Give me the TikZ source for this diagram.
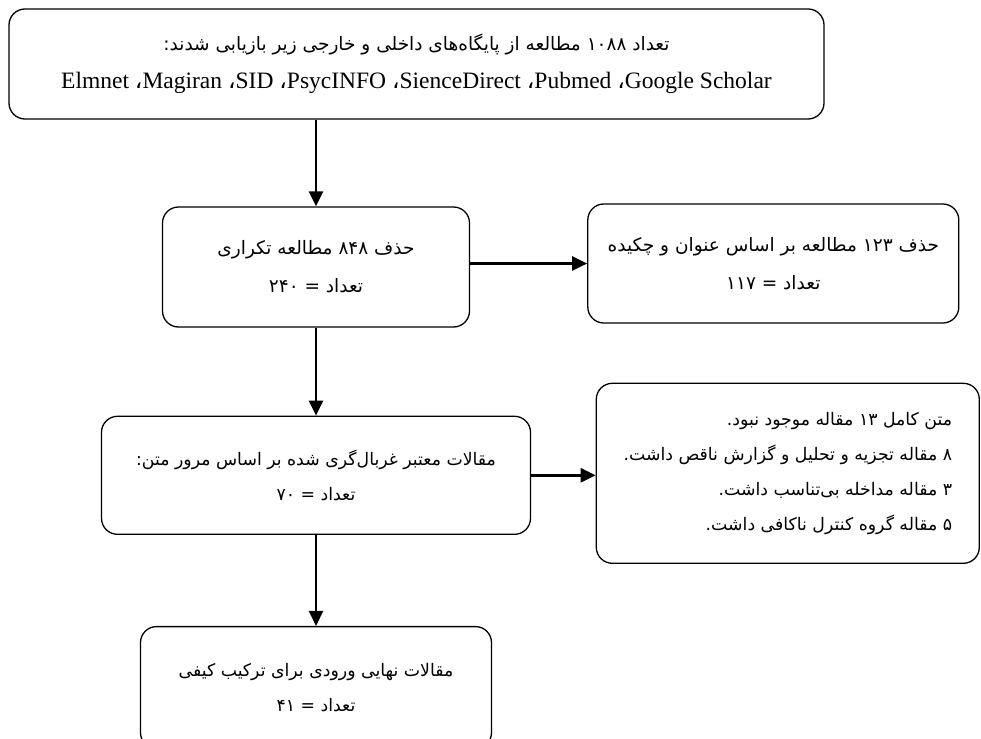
\documentclass[tikz,border=0pt]{standalone}
\usepackage{fontspec}
\setmainfont{Liberation Serif}
\newfontfamily\farsi[Script=Arabic]{DejaVu Sans}
\TeXXeTstate=1
\usepackage{tikz}
\usetikzlibrary{arrows.meta, positioning}

\newcommand{\fa}[1]{{\farsi\beginR #1\endR}}

\begin{document}
\begin{tikzpicture}[
    x=1pt, y=-1pt,
    every node/.style={font=\fontsize{17}{37}\selectfont},
    box/.style={rectangle, rounded corners=16pt, draw=black, line width=1.3pt, align=center, inner sep=0pt},
    toptext/.style={font=\fontsize{18.5}{38}\selectfont},
    lowtext/.style={font=\fontsize{17.3}{35}\selectfont},
    flow/.style={-{Triangle[length=15pt, width=14pt]}, line width=2.5pt}
]
\useasboundingbox (0,0) rectangle (981,738);

% Search in databases
\node[box, toptext, minimum width=815pt, minimum height=110pt] (search) at (416.5,64)
    {\fa{تعداد ۱۰۸۸ مطالعه از پایگاه‌های داخلی و خارجی زیر بازیابی شدند:}\\
     {\fontsize{23.5}{37}\selectfont Elmnet {\farsi ،}Magiran {\farsi ،}SID {\farsi ،}PsycINFO {\farsi ،}SienceDirect {\farsi ،}Pubmed {\farsi ،}Google Scholar}};

% Duplicates and title/abstract screening
\node[box, toptext, minimum width=307pt, minimum height=120pt] (dedup) at (316,267)
    {\fa{حذف ۸۴۸ مطالعه تکراری}\\\fa{تعداد = ۲۴۰}};
\node[box, toptext, minimum width=371pt, minimum height=119pt, right=117pt of dedup, yshift=3.5pt] (title)
    {\fa{حذف ۱۲۳ مطالعه بر اساس عنوان و چکیده}\\\fa{تعداد = ۱۱۷}};

% Full text screening
\node[box, lowtext, minimum width=429pt, minimum height=118pt, below=88pt of dedup] (screen)
    {\fa{مقالات معتبر غربال‌گری شده بر اساس مرور متن:}\\\fa{تعداد = ۷۰}};
\node[box, lowtext, align=right, minimum width=383pt, minimum height=180pt, right=64.5pt of screen, yshift=2pt] (excl)
    {\fa{متن کامل ۱۳ مقاله موجود نبود.}\\
     \fa{۸ مقاله تجزیه و تحلیل و گزارش ناقص داشت.}\\
     \fa{۳ مقاله مداخله بی‌تناسب داشت.}\\
     \fa{۵ مقاله گروه کنترل ناکافی داشت.}};

% Final studies
\node[box, lowtext, minimum width=351pt, minimum height=122pt, below=91pt of screen] (final)
    {\fa{مقالات نهایی ورودی برای ترکیب کیفی}\\\fa{تعداد = ۴۱}};

% Arrows
\draw[flow] (search.south -| dedup.north) -- (dedup.north);
\draw[flow] (title.west -| dedup.east) -- (title.west);
\draw[flow] (dedup.south) -- (screen.north);
\draw[flow] (screen.east) -- (screen.east -| excl.west);
\draw[flow] (screen.south) -- (final.north);

\end{tikzpicture}
\end{document}
